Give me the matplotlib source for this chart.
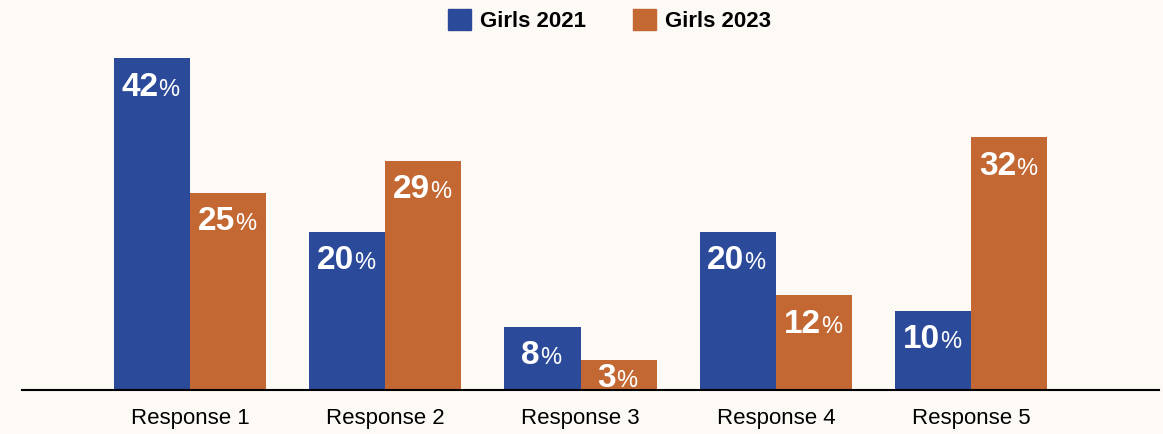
import matplotlib.pyplot as plt
import matplotlib.patches as mpatches
from matplotlib.offsetbox import TextArea, HPacker, AnnotationBbox
import numpy as np

categories = ["Response 1", "Response 2", "Response 3", "Response 4", "Response 5"]
series_names = ["Girls 2021", "Girls 2023"]
# bar heights as drawn in the picture
girls_2021 = [42, 20, 8, 20, 10]
girls_2023 = [25, 29, 3.8, 12, 32]
# printed labels
labels_2021 = ["42", "20", "8", "20", "10"]
labels_2023 = ["25", "29", "3", "12", "32"]

BLUE = "#2C4A9A"
ORANGE = "#C36833"
BG = "#FDF9F5"

plt.rcParams['font.family'] = ['Liberation Sans', 'DejaVu Sans']

fig = plt.figure(figsize=(11.63, 4.34), dpi=100, facecolor=BG)
ax = fig.add_axes([0.0189, 0.101, 0.978, 0.80])
ax.set_facecolor(BG)

x = np.arange(len(categories))
w = 0.39
ax.bar(x - w / 2, girls_2021, w, color=BLUE, zorder=2)
ax.bar(x + w / 2, girls_2023, w, color=ORANGE, zorder=2)

ax.set_xlim(-0.86, 4.963)
ax.set_ylim(0, 43.95)

for s in ["top", "right", "left"]:
    ax.spines[s].set_visible(False)
ax.spines["bottom"].set_linewidth(1.5)
ax.spines["bottom"].set_zorder(5)
ax.set_yticks([])
ax.set_xticks(x)
ax.set_xticklabels(categories, fontsize=16)
ax.tick_params(axis="x", length=0, pad=13)

# value labels: big bold number + smaller percent sign
def add_label(xpos, val, txt):
    num = TextArea(txt, textprops=dict(color="white", fontsize=24, fontweight="bold"))
    pct = TextArea("%", textprops=dict(color="white", fontsize=17))
    box = HPacker(children=[num, pct], align="baseline", pad=0, sep=0)
    if val < 5:
        # short bar: sit the label on the baseline
        ab = AnnotationBbox(box, (xpos, 0), xybox=(-1, -2.5), xycoords="data",
                            boxcoords="offset points", box_alignment=(0.5, 0),
                            frameon=False, zorder=4)
    else:
        ab = AnnotationBbox(box, (xpos, val), xybox=(-1, -9.5), xycoords="data",
                            boxcoords="offset points", box_alignment=(0.5, 1),
                            frameon=False, zorder=4)
    ax.add_artist(ab)

for xi, v, t in zip(x - w / 2, girls_2021, labels_2021):
    add_label(xi, v, t)
for xi, v, t in zip(x + w / 2, girls_2023, labels_2023):
    add_label(xi, v, t)

handles = [mpatches.Patch(color=BLUE), mpatches.Patch(color=ORANGE)]
fig.legend(handles, series_names, loc="center", bbox_to_anchor=(0.524, 0.952),
           ncol=2, frameon=False, handlelength=1.05, handleheight=1.05,
           handletextpad=0.4, columnspacing=2.1,
           prop=dict(size=16, weight="bold"))

fig.savefig("out.png", dpi=100, facecolor=BG)
